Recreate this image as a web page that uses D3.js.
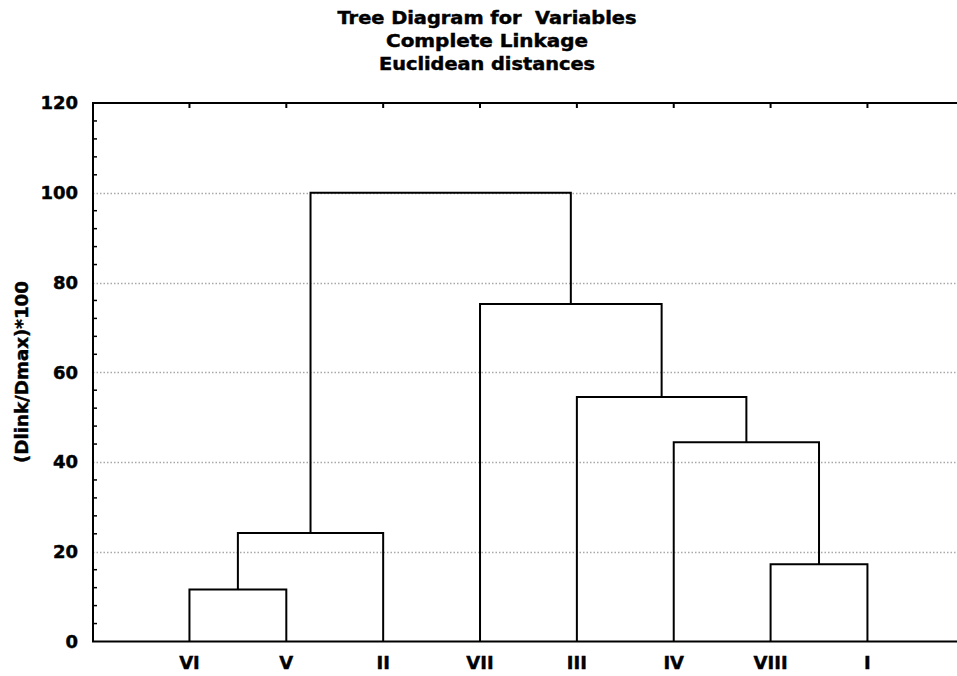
<!DOCTYPE html>
<html>
<head>
<meta charset="utf-8">
<script src="https://cdn.jsdelivr.net/npm/d3@7/dist/d3.min.js"></script>
<style>
  html, body { margin: 0; padding: 0; background: #fff; }
  svg { display: block; }
  text {
    font-family: "DejaVu Sans", "Liberation Sans", Arial, sans-serif;
    font-weight: bold; fill: #000;
    stroke: #000; stroke-width: 0.45px;
    white-space: pre;
  }
</style>
</head>
<body>
<svg id="chart" width="957" height="676"></svg>
<script>
// Leaf variables in dendrogram order
const leaves = ["VI", "V", "II", "VII", "III", "IV", "VIII", "I"];

// Amalgamation schedule: cluster Lk is formed by step k (1-based)
const linkA = ["VI", "L1", "VIII", "IV", "III", "VII", "L2"];
const linkB = ["V", "II", "I", "L3", "L4", "L5", "L6"];
const linkHeight = [11.6, 24.2, 17.2, 44.4, 54.5, 75.2, 100];

const yTicks = [0, 20, 40, 60, 80, 100, 120];
const gridTicks = [20, 40, 60, 80, 100];
const titleLines = ["Tree Diagram for  Variables", "Complete Linkage", "Euclidean distances"];
const yTitle = "(Dlink/Dmax)*100";

const svg = d3.select("#chart");
const W = 957, H = 676;
const plotL = 93, plotT = 103, plotB = 641.5, plotR = 964.3;

const x = d3.scaleLinear().domain([0, leaves.length + 1]).range([92.6, plotR]);
const y = d3.scaleLinear().domain([0, 120]).range([plotB, plotT]);

// Titles
const titleY = [24, 47, 70];
const titleW = [299, 202, 216];
svg.selectAll("text.title").data(titleLines).join("text")
  .attr("class", "title")
  .attr("x", 487).attr("y", (d, i) => titleY[i])
  .attr("text-anchor", "middle")
  .attr("font-size", 17)
  .attr("textLength", (d, i) => titleW[i])
  .attr("lengthAdjust", "spacingAndGlyphs")
  .text(d => d);

// Dotted grid
svg.append("g").selectAll("line").data(gridTicks).join("line")
  .attr("x1", plotL).attr("x2", W)
  .attr("y1", d => Math.round(y(d)) + 0.5).attr("y2", d => Math.round(y(d)) + 0.5)
  .attr("stroke", "#a8a8a8").attr("stroke-width", 1.3)
  .attr("stroke-dasharray", "1.5,2");

// Minor ticks on left axis (every 4 units), pointing inward
const minor = d3.range(0, 121, 4).filter(v => v % 20 !== 0);
svg.append("g").selectAll("line").data(minor).join("line")
  .attr("x1", plotL).attr("x2", plotL + 4)
  .attr("y1", d => y(d)).attr("y2", d => y(d))
  .attr("stroke", "#000").attr("stroke-width", 1.5);

// Leaf tick marks on top border
svg.append("g").selectAll("line").data(leaves).join("line")
  .attr("x1", (d, i) => x(i + 1)).attr("x2", (d, i) => x(i + 1))
  .attr("y1", plotT).attr("y2", plotT + 5)
  .attr("stroke", "#000").attr("stroke-width", 2);

// Frame
svg.append("path")
  .attr("d", `M${W},${plotT}H${plotL}V${plotB}H${W}`)
  .attr("fill", "none").attr("stroke", "#000").attr("stroke-width", 2);

// Y tick labels
svg.append("g").selectAll("text").data(yTicks).join("text")
  .attr("x", 78).attr("y", d => y(d))
  .attr("dy", "0.36em")
  .attr("text-anchor", "end")
  .attr("font-size", 18)
  .text(d => d);

// Y axis title
svg.append("text")
  .attr("transform", `translate(28,372) rotate(-90)`)
  .attr("text-anchor", "middle")
  .attr("font-size", 17)
  .attr("textLength", 182)
  .attr("lengthAdjust", "spacingAndGlyphs")
  .text(yTitle);

// X labels
svg.append("g").selectAll("text").data(leaves).join("text")
  .attr("x", (d, i) => x(i + 1)).attr("y", 669)
  .attr("text-anchor", "middle")
  .attr("font-size", 18)
  .text(d => d);

// Build node positions and draw dendrogram links
const pos = {};
leaves.forEach((name, i) => { pos[name] = { x: x(i + 1), h: 0 }; });
const g = svg.append("g").attr("fill", "none").attr("stroke", "#000").attr("stroke-width", 2);
linkHeight.forEach((h, k) => {
  const a = pos[linkA[k]], b = pos[linkB[k]];
  g.append("path")
    .attr("d", `M${a.x},${y(a.h)}V${y(h)}H${b.x}V${y(b.h)}`);
  pos["L" + (k + 1)] = { x: (a.x + b.x) / 2, h: h };
});
</script>
</body>
</html>
